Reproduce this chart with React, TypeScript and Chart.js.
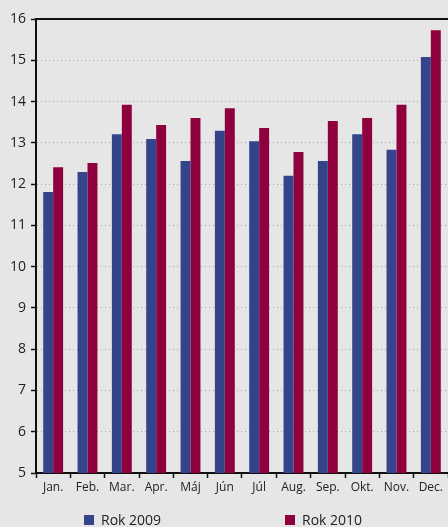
import React, { useEffect, useRef } from "react";
import { Chart, registerables } from "chart.js";

Chart.register(...registerables);

const categories = ["Jan.", "Feb.", "Mar.", "Apr.", "Máj", "Jún", "Júl", "Aug.", "Sep.", "Okt.", "Nov.", "Dec."];
const rok2009 = [11.81, 12.29, 13.21, 13.09, 12.56, 13.29, 13.04, 12.2, 12.56, 13.21, 12.83, 15.08];
const rok2010 = [12.41, 12.51, 13.92, 13.43, 13.6, 13.84, 13.36, 12.78, 13.53, 13.6, 13.92, 15.73];
const seriesNames = ["Rok 2009", "Rok 2010"];
const colors = ["#35438b", "#8f003f"];
const yMin = 5;
const yMax = 16;

const FONT = "'Open Sans', 'Noto Sans', sans-serif";
const BG = "#e6e6e6";

export default function App() {
  const ref = useRef<HTMLCanvasElement | null>(null);

  useEffect(() => {
    document.body.style.margin = "0";
    document.body.style.background = BG;
    const canvas = ref.current;
    if (!canvas) return;
    const chart = new Chart(canvas, {
      type: "bar",
      data: {
        labels: categories,
        datasets: [
          { label: seriesNames[0], data: rok2009, backgroundColor: colors[0], borderWidth: 0, barPercentage: 1, categoryPercentage: 0.58 },
          { label: seriesNames[1], data: rok2010, backgroundColor: colors[1], borderWidth: 0, barPercentage: 1, categoryPercentage: 0.58 },
        ],
      },
      options: {
        responsive: false,
        animation: false,
        layout: { padding: { top: 19, right: 0, bottom: 0, left: 0 } },
        plugins: { legend: { display: false }, tooltip: { enabled: false } },
        scales: {
          x: {
            position: "bottom",
            grid: {
              offset: true,
              drawOnChartArea: false,
              drawTicks: true,
              tickLength: 5,
              tickColor: "#111",
              tickWidth: 1.5,
            },
            border: { display: true, color: "#111", width: 2 },
            ticks: { color: "#222", font: { family: FONT, size: 12 }, padding: 2, maxRotation: 0, autoSkip: false },
            afterFit: (s: any) => {
              s.height = 54;
            },
          },
          x2: {
            position: "top",
            display: true,
            grid: { display: false, drawTicks: false },
            border: { display: true, color: "#111", width: 2 },
            ticks: { display: false },
            afterFit: (s: any) => {
              s.height = 0;
            },
          },
          y: {
            min: yMin,
            max: yMax,
            ticks: { stepSize: 1, color: "#222", font: { family: FONT, size: 14 }, padding: 5 },
            grid: {
              color: "#a8a8a8",
              lineWidth: 1,
              drawTicks: true,
              tickLength: 5,
              tickColor: "#111",
              tickWidth: 1.5,
              tickBorderDash: [],
            },
            border: { display: true, color: "#111", width: 2, dash: [1, 3] },
            afterFit: (s: any) => {
              s.width = 36;
            },
          },
        },
      },
    } as any);
    return () => chart.destroy();
  }, []);

  const legendItem = (i: number, left: number) => (
    <div
      key={i}
      style={{
        position: "absolute",
        left,
        top: 511,
        display: "flex",
        alignItems: "center",
        fontFamily: FONT,
        fontSize: 14,
        color: "#222",
        lineHeight: "18px",
      }}
    >
      <span style={{ display: "inline-block", width: 10, height: 10, background: colors[i], marginRight: 7 }} />
      <span>{seriesNames[i]}</span>
    </div>
  );

  return (
    <div style={{ position: "fixed", left: 0, top: 0, width: 448, height: 527, background: BG, overflow: "hidden" }}>
      <canvas ref={ref} width={448} height={527} style={{ display: "block", width: 448, height: 527 }} />
      {legendItem(0, 84)}
      {legendItem(1, 285)}
    </div>
  );
}
